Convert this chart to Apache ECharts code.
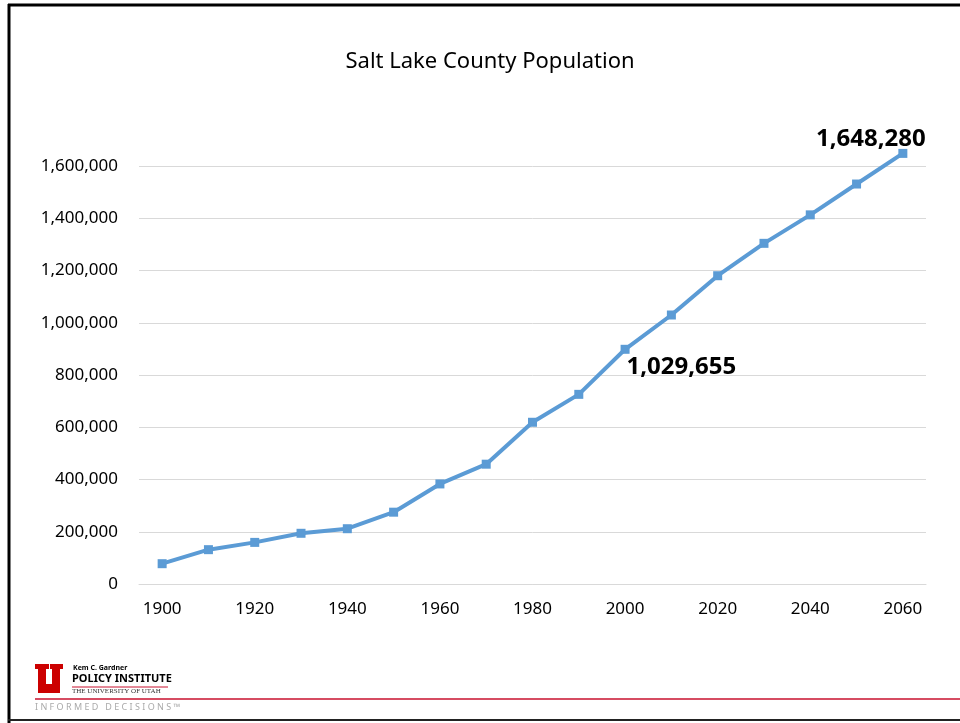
<!DOCTYPE html>
<html>
<head>
<meta charset="utf-8">
<script src="https://cdn.jsdelivr.net/npm/echarts@6/dist/echarts.min.js"></script>
<style>
html,body{margin:0;padding:0;background:#fff;}
#chart{width:960px;height:723px;}
</style>
</head>
<body>
<div id="chart"></div>
<script>
const years = ['1900','1910','1920','1930','1940','1950','1960','1970','1980','1990','2000','2010','2020','2030','2040','2050','2060'];
const population = [77725,131426,159282,194102,211623,274895,383035,458607,619066,725956,898387,1029655,1180000,1304000,1413000,1531000,1648280];
const labelledYears = ['2010','2060'];
const titleText = 'Salt Lake County Population';

const fmt = v => Math.round(v).toString().replace(/\B(?=(\d{3})+(?!\d))/g, ',');
const font = '"Noto Sans", "Open Sans", sans-serif';

const seriesData = population.map((v, i) => {
  const d = { value: v };
  if (years[i] === '2010') {
    d.label = { show: true, position: 'bottom', distance: 2, offset: [10, 34] };
  } else if (years[i] === '2060') {
    d.label = { show: true, position: 'top', distance: 2, offset: [-32, 4] };
  }
  return d;
});

const chart = echarts.init(document.getElementById('chart'), null, { renderer: 'canvas' });
const red = '#c8102e';
chart.setOption({
  animation: false,
  backgroundColor: '#fff',
  title: {
    text: titleText, left: 485, top: 46, textAlign: 'center',
    textStyle: { fontFamily: font, fontSize: 22, fontWeight: 'normal', color: '#000' }
  },
  grid: { left: 139, right: 34, top: 166, bottom: 139, containLabel: false },
  xAxis: {
    type: 'category', data: years, boundaryGap: true,
    axisLine: { lineStyle: { color: '#d9d9d9', width: 1 } },
    axisTick: { show: false },
    axisLabel: { interval: 1, color: '#000', fontFamily: font, fontSize: 17, margin: 17 }
  },
  yAxis: {
    type: 'value', min: 0, max: 1600000, interval: 200000,
    axisLine: { show: false }, axisTick: { show: false },
    splitLine: { lineStyle: { color: '#d9d9d9', width: 1 } },
    axisLabel: { formatter: v => fmt(v), color: '#000', fontFamily: font, fontSize: 17, margin: 21 }
  },
  series: [{
    type: 'line', data: seriesData, clip: false,
    symbol: 'rect', symbolSize: 9,
    lineStyle: { color: '#5b9bd5', width: 4 },
    itemStyle: { color: '#5b9bd5' },
    label: {
      show: false, formatter: p => fmt(p.value),
      fontFamily: font, fontSize: 24, fontWeight: 'bold', color: '#000'
    }
  }],
  graphic: [
    { type: 'line', shape: { x1: 8, y1: 5, x2: 960, y2: 5 }, style: { stroke: '#000', lineWidth: 3 } },
    { type: 'line', shape: { x1: 9, y1: 4, x2: 9, y2: 723 }, style: { stroke: '#000', lineWidth: 3 } },
    { type: 'line', shape: { x1: 8, y1: 720, x2: 960, y2: 720 }, style: { stroke: '#222', lineWidth: 2 } },
    { type: 'line', shape: { x1: 35, y1: 699, x2: 960, y2: 699 }, style: { stroke: red, lineWidth: 1.5 } },
    { type: 'polygon', shape: { points: [[35,664],[49,664],[49,669],[46,669],[46,684],[52,684],[52,669],[50,669],[50,664],[63,664],[63,669],[60,669],[60,693],[38,693],[38,669],[35,669]] }, style: { fill: '#cc0000' } },
    { type: 'text', left: 73, top: 664, style: { text: 'Kem C. Gardner', font: 'bold 7px ' + font, fill: '#000' } },
    { type: 'text', left: 72, top: 673, style: { text: 'POLICY INSTITUTE', font: 'bold 11px ' + font, fill: '#000' } },
    { type: 'line', shape: { x1: 72, y1: 687, x2: 168, y2: 687 }, style: { stroke: red, lineWidth: 1 } },
    { type: 'text', left: 72, top: 688, style: { text: 'THE UNIVERSITY OF UTAH', font: '7px "Liberation Serif", serif', fill: '#333' } },
    { type: 'text', left: 35, top: 703, style: { text: 'I N F O R M E D   D E C I S I O N S ™', font: '9px ' + font, fill: '#aaa' } }
  ]
});
</script>
</body>
</html>
